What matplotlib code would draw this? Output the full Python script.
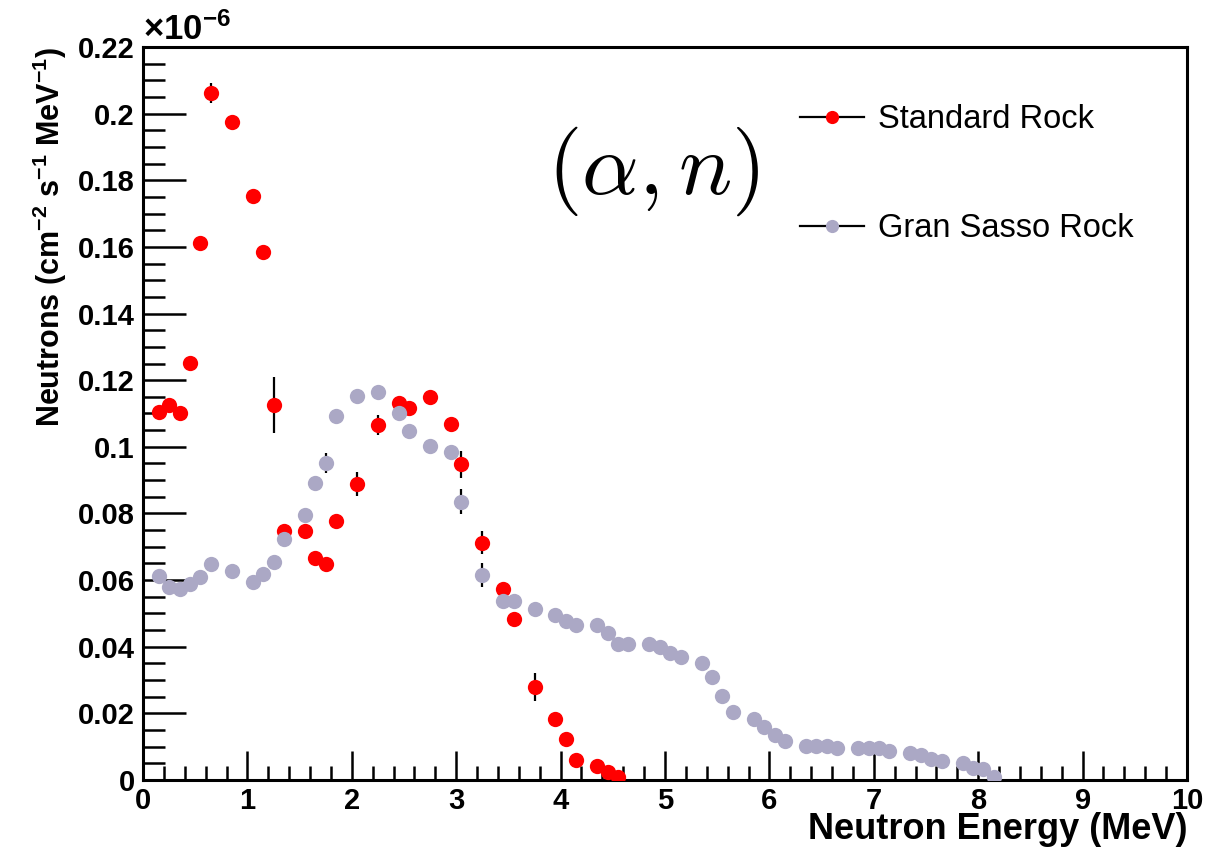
import numpy as np
import matplotlib
matplotlib.use("Agg")
import matplotlib.pyplot as plt
from matplotlib.lines import Line2D
from matplotlib.ticker import MultipleLocator, FuncFormatter

# Neutron energy bin centres (MeV) and fluxes (units of 1e-6 neutrons cm^-2 s^-1 MeV^-1)
std_energy = [0.15, 0.25, 0.35, 0.45, 0.55, 0.65, 0.85, 1.05, 1.15, 1.25,
              1.35, 1.55, 1.65, 1.75, 1.85, 2.05, 2.25, 2.45, 2.55, 2.75,
              2.95, 3.05, 3.25, 3.45, 3.55, 3.75, 3.95, 4.05, 4.15, 4.35,
              4.45, 4.55]
std_flux = [0.1104, 0.1127, 0.1102, 0.1253, 0.1613, 0.2063, 0.1976, 0.1753, 0.1584, 0.1125,
            0.0748, 0.0747, 0.0665, 0.0647, 0.0778, 0.0888, 0.1066, 0.1132, 0.1118, 0.1150,
            0.1068, 0.0947, 0.0712, 0.0572, 0.0482, 0.0280, 0.0183, 0.0124, 0.0061, 0.0043,
            0.0025, 0.0008]
std_err = [0.0015, 0.0015, 0.0015, 0.0015, 0.0018, 0.0030, 0.0018, 0.0018, 0.0018, 0.0085,
           0.0015, 0.0015, 0.0015, 0.0015, 0.0015, 0.0037, 0.0030, 0.0015, 0.0020, 0.0015,
           0.0015, 0.0040, 0.0035, 0.0015, 0.0015, 0.0042, 0.0015, 0.0010, 0.0010, 0.0010,
           0.0010, 0.0005]

gs_energy = [0.15, 0.25, 0.35, 0.45, 0.55, 0.65, 0.85, 1.05, 1.15, 1.25,
             1.35, 1.55, 1.65, 1.75, 1.85, 2.05, 2.25, 2.45, 2.55, 2.75,
             2.95, 3.05, 3.25, 3.45, 3.55, 3.75, 3.95, 4.05, 4.15, 4.35,
             4.45, 4.55, 4.65, 4.85, 4.95, 5.05, 5.15, 5.35, 5.45, 5.55,
             5.65, 5.85, 5.95, 6.05, 6.15, 6.35, 6.45, 6.55, 6.65, 6.85,
             6.95, 7.05, 7.15, 7.35, 7.45, 7.55, 7.65, 7.85, 7.95, 8.05,
             8.15]
gs_flux = [0.0613, 0.0578, 0.0573, 0.0587, 0.0610, 0.0647, 0.0627, 0.0593, 0.0617, 0.0655,
           0.0723, 0.0795, 0.0890, 0.0950, 0.1093, 0.1154, 0.1165, 0.1103, 0.1047, 0.1003,
           0.0985, 0.0835, 0.0615, 0.0538, 0.0538, 0.0512, 0.0495, 0.0478, 0.0464, 0.0465,
           0.0442, 0.0408, 0.0408, 0.0408, 0.0398, 0.0380, 0.0368, 0.0350, 0.0310, 0.0252,
           0.0205, 0.0183, 0.0160, 0.0135, 0.0117, 0.0103, 0.0101, 0.0101, 0.0095, 0.0095,
           0.0095, 0.0095, 0.0087, 0.0082, 0.0074, 0.0062, 0.0057, 0.0052, 0.0035, 0.0033,
           0.0008]
gs_err = [0.0010] * 13 + [0.0030] + [0.0015] * 7 + [0.0037, 0.0036] + [0.0010] * 38

legend_labels = ['Standard Rock', 'Gran Sasso Rock']

plt.rcParams['font.family'] = ['Liberation Sans', 'DejaVu Sans']
plt.rcParams['mathtext.fontset'] = 'custom'
plt.rcParams['mathtext.rm'] = 'Liberation Sans:bold'
plt.rcParams['mathtext.it'] = 'Liberation Sans:bold'
plt.rcParams['mathtext.bf'] = 'Liberation Sans:bold'
plt.rcParams['mathtext.default'] = 'rm'

fig = plt.figure(figsize=(12.27, 8.6), dpi=100)
ax = fig.add_axes([143/1227, 1 - 780/860, (1187-143)/1227, (780-47)/860])

red = '#ff0000'
grey = '#aba8c5'

ax.errorbar(std_energy, std_flux, yerr=std_err, fmt='none', ecolor='black',
            elinewidth=1.6, capsize=0, zorder=2)
ax.plot(std_energy, std_flux, 'o', color=red, markersize=11, markeredgewidth=0, zorder=3)
ax.errorbar(gs_energy, gs_flux, yerr=gs_err, fmt='none', ecolor='black',
            elinewidth=1.6, capsize=0, zorder=4)
ax.plot(gs_energy, gs_flux, 'o', color=grey, markersize=11, markeredgewidth=0, zorder=5)

ax.set_xlim(0, 10)
ax.set_ylim(0, 0.22)
ax.xaxis.set_major_locator(MultipleLocator(1))
ax.xaxis.set_minor_locator(MultipleLocator(0.2))
ax.yaxis.set_major_locator(MultipleLocator(0.02))
ax.yaxis.set_minor_locator(MultipleLocator(0.005))
ax.xaxis.set_major_formatter(FuncFormatter(lambda v, p: f"{v:g}"))
ax.yaxis.set_major_formatter(FuncFormatter(lambda v, p: f"{round(v, 3):g}"))

ax.tick_params(which='both', direction='in', top=False, right=False, width=1.8, color='black')
ax.tick_params(axis='x', which='major', length=21, labelsize=21, pad=5)
ax.tick_params(axis='x', which='minor', length=10)
ax.tick_params(axis='y', which='major', length=31, labelsize=21, pad=6)
ax.tick_params(axis='y', which='minor', length=15.5)
for lab in ax.get_xticklabels() + ax.get_yticklabels():
    lab.set_fontweight('bold')
for s in ax.spines.values():
    s.set_linewidth(2.2)

ax.set_xlabel('Neutron Energy (MeV)', fontsize=26, fontweight='bold', loc='right', labelpad=-2)
ax.set_ylabel(r'Neutrons (cm$^{-2}$ s$^{-1}$ MeV$^{-1}$)',
              fontsize=22, fontweight='bold', loc='top', labelpad=6)

fig.text(143/1227, 1 - 47/860, r'$\times$10$^{-6}$', fontsize=25, fontweight='bold',
         ha='left', va='bottom')

ax.text(0.4885, 0.831, r'$(\alpha, \mathit{n})$', transform=ax.transAxes, fontsize=64,
        ha='center', va='center', math_fontfamily='cm')

handles = [Line2D([0], [0], color='black', lw=1.6, marker='o', markersize=9.5,
                  markerfacecolor=red, markeredgewidth=0),
           Line2D([0], [0], color='black', lw=1.6, marker='o', markersize=9.5,
                  markerfacecolor=grey, markeredgewidth=0)]
leg = ax.legend(handles, legend_labels, loc='upper left',
                bbox_to_anchor=(800/1227, 1 - 104/860), bbox_transform=fig.transFigure,
                frameon=False, fontsize=23.5, handlelength=1.95, handletextpad=0.45,
                labelspacing=2.4, borderpad=0, borderaxespad=0)

fig.savefig('out.png', dpi=100)
